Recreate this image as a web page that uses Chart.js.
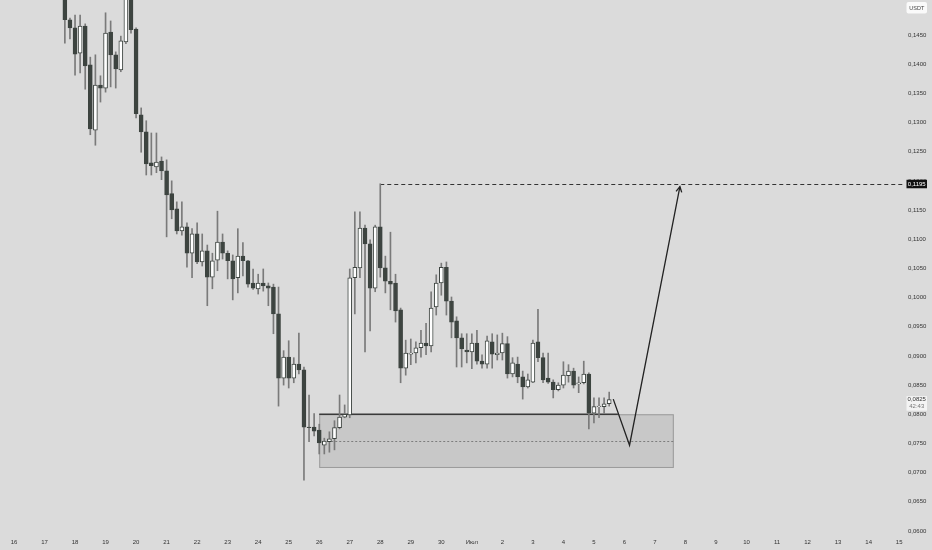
<!DOCTYPE html>
<html>
<head>
<meta charset="utf-8">
<script src="https://cdn.jsdelivr.net/npm/chart.js@4.4.1/dist/chart.umd.min.js"></script>
<style>
  html, body { margin: 0; padding: 0; background: #dbdbdb; }
  #wrap { position: relative; width: 932px; height: 550px; }
</style>
</head>
<body>
<div id="wrap"><canvas id="chart"></canvas></div>
<script>
// 4h candles, index 0 = 16 June 00:00 (6 candles per day)
const firstCandle = 10;

const opens = [
  0.1527, 0.1476, 0.1462, 0.1419, 0.1465, 0.1399, 0.1287, 0.1364, 0.1359, 0.1455,
  0.1416, 0.1390, 0.1438, 0.1524, 0.1460, 0.1313, 0.1284, 0.1231, 0.1224, 0.1234,
  0.1217, 0.1178, 0.1152, 0.1114, 0.1121, 0.1076, 0.1109, 0.1061, 0.1080, 0.1035,
  0.1064, 0.1095, 0.1076, 0.1063, 0.1034, 0.1071, 0.1063, 0.1025, 0.1015, 0.1025,
  0.1020, 0.1018, 0.0972, 0.0862, 0.0898, 0.0862, 0.0886, 0.0876, 0.0778, 0.0778,
  0.0773, 0.0747, 0.0753, 0.0758, 0.0777, 0.0795, 0.0799, 0.1034, 0.1051, 0.1119,
  0.1092, 0.1016, 0.1121, 0.1051, 0.1028, 0.1025, 0.0979, 0.0879, 0.0903, 0.0905,
  0.0914, 0.0922, 0.0917, 0.0984, 0.1025, 0.1052, 0.0994, 0.0960, 0.0931, 0.0910,
  0.0907, 0.0922, 0.0891, 0.0886, 0.0924, 0.0902, 0.0905, 0.0921, 0.0869, 0.0886,
  0.0864, 0.0847, 0.0855, 0.0924, 0.0897, 0.0862, 0.0855, 0.0842, 0.0850, 0.0866,
  0.0874, 0.0852, 0.0854, 0.0869, 0.0802, 0.0813, 0.0813, 0.0818
];
const highs = [
  0.1544, 0.1479, 0.1484, 0.1484, 0.1469, 0.1412, 0.1416, 0.1380, 0.1488, 0.1474,
  0.1421, 0.1448, 0.1531, 0.1536, 0.1462, 0.1325, 0.1303, 0.1282, 0.1282, 0.1241,
  0.1236, 0.1200, 0.1164, 0.1164, 0.1128, 0.1118, 0.1128, 0.1109, 0.1090, 0.1076,
  0.1148, 0.1109, 0.1080, 0.1073, 0.1118, 0.1094, 0.1064, 0.1049, 0.1040, 0.1049,
  0.1025, 0.1023, 0.1018, 0.0909, 0.0926, 0.0897, 0.0939, 0.0881, 0.0833, 0.0801,
  0.0783, 0.0759, 0.0770, 0.0789, 0.0833, 0.0816, 0.1049, 0.1147, 0.1147, 0.1124,
  0.1099, 0.1124, 0.1195, 0.1071, 0.1112, 0.1040, 0.0982, 0.0927, 0.0929, 0.0924,
  0.0944, 0.0956, 0.1010, 0.1039, 0.1059, 0.1061, 0.1001, 0.0967, 0.0938, 0.0938,
  0.0938, 0.0944, 0.0902, 0.0934, 0.0938, 0.0936, 0.0939, 0.0933, 0.0897, 0.0898,
  0.0874, 0.0869, 0.0927, 0.0980, 0.0905, 0.0905, 0.0859, 0.0854, 0.0890, 0.0885,
  0.0879, 0.0864, 0.0891, 0.0871, 0.0828, 0.0828, 0.0828, 0.0838
];
const lows = [
  0.1436, 0.1443, 0.1381, 0.1385, 0.1357, 0.1279, 0.1261, 0.1335, 0.1352, 0.1361,
  0.1359, 0.1387, 0.1435, 0.1453, 0.1308, 0.1249, 0.1210, 0.1210, 0.1214, 0.1202,
  0.1104, 0.1135, 0.1109, 0.1107, 0.1052, 0.1034, 0.1058, 0.1054, 0.0986, 0.1015,
  0.1046, 0.1066, 0.1032, 0.0996, 0.1008, 0.1037, 0.1018, 0.1014, 0.1006, 0.1011,
  0.0986, 0.0938, 0.0814, 0.0850, 0.0845, 0.0854, 0.0869, 0.0687, 0.0753, 0.0763,
  0.0732, 0.0732, 0.0735, 0.0739, 0.0775, 0.0794, 0.0794, 0.0972, 0.1034, 0.0907,
  0.0943, 0.1010, 0.1035, 0.1008, 0.0979, 0.0958, 0.0854, 0.0867, 0.0885, 0.0888,
  0.0898, 0.0902, 0.0907, 0.0970, 0.1004, 0.0970, 0.0931, 0.0881, 0.0881, 0.0888,
  0.0878, 0.0886, 0.0879, 0.0879, 0.0879, 0.0893, 0.0893, 0.0862, 0.0864, 0.0854,
  0.0826, 0.0845, 0.0854, 0.0890, 0.0854, 0.0853, 0.0828, 0.0840, 0.0845, 0.0855,
  0.0845, 0.0837, 0.0852, 0.0775, 0.0785, 0.0794, 0.0802, 0.0814
];
const closes = [
  0.1476, 0.1462, 0.1417, 0.1465, 0.1397, 0.1289, 0.1364, 0.1359, 0.1453, 0.1416,
  0.1392, 0.1440, 0.1519, 0.1459, 0.1315, 0.1284, 0.1229, 0.1226, 0.1232, 0.1217,
  0.1176, 0.1150, 0.1114, 0.1121, 0.1076, 0.1109, 0.1061, 0.1080, 0.1035, 0.1063,
  0.1095, 0.1076, 0.1063, 0.1032, 0.1071, 0.1063, 0.1023, 0.1016, 0.1025, 0.1020,
  0.1016, 0.0972, 0.0862, 0.0898, 0.0862, 0.0886, 0.0876, 0.0778, 0.0777, 0.0771,
  0.0751, 0.0754, 0.0758, 0.0777, 0.0795, 0.0800, 0.1034, 0.1052, 0.1119, 0.1092,
  0.1016, 0.1121, 0.1051, 0.1028, 0.1023, 0.0977, 0.0879, 0.0905, 0.0905, 0.0914,
  0.0922, 0.0917, 0.0982, 0.1025, 0.1052, 0.0994, 0.0958, 0.0931, 0.0912, 0.0907,
  0.0922, 0.0891, 0.0886, 0.0926, 0.0903, 0.0905, 0.0921, 0.0869, 0.0888, 0.0864,
  0.0847, 0.0859, 0.0922, 0.0897, 0.0859, 0.0855, 0.0842, 0.0850, 0.0867, 0.0874,
  0.0850, 0.0854, 0.0869, 0.0802, 0.0813, 0.0814, 0.0818, 0.0825
];

// axis ticks
const priceTicks = [0.060, 0.065, 0.070, 0.075, 0.080, 0.085, 0.090, 0.095, 0.100,
  0.105, 0.110, 0.115, 0.120, 0.125, 0.130, 0.135, 0.140, 0.145];
const dayLabels = ['16', '17', '18', '19', '20', '21', '22', '23', '24', '25', '26', '27',
  '28', '29', '30', 'Июл', '2', '3', '4', '5', '6', '7', '8', '9', '10', '11', '12', '13', '14', '15'];
const dayTicks = dayLabels.map((d, k) => k * 6);

// visible window
const viewStart = -2.75, viewEnd = 174.95;
const priceMin = 0.05914, priceMax = 0.15099;

// drawings (candle index / price)
const zoneStart = 60, zoneEnd = 129.7;
const zoneTop = 0.0800, zoneBottom = 0.0708, zoneMid = 0.0754;
const supportEnd = 118.7;
const targetStart = 72, targetPrice = 0.1195;
const projectionIdx = [117.8, 121.0, 130.9];
const projectionPrice = [0.0826, 0.0747, 0.1190];
const lastPrice = 0.0825, countdown = '42:43', currency = 'USDT';

const UP = '#ffffff', DOWN = '#3d4440', EDGE = '#3d4440', WICK = '#7a7a7a';
const FONT = { family: 'Liberation Sans, Arial, sans-serif', size: 6 };
const fmt = v => v.toFixed(4).replace('.', ',');

const bodies = opens.map((o, k) => ({ x: firstCandle + k, y: [o, closes[k]] }));
const wicks = lows.map((l, k) => ({ x: firstCandle + k, y: [l, highs[k]] }));
const bodyColors = opens.map((o, k) => closes[k] >= o ? UP : DOWN);

const drawings = {
  id: 'drawings',
  beforeDatasetsDraw(chart) {
    const { ctx, chartArea, scales: { x, y } } = chart;
    ctx.save();
    ctx.beginPath();
    ctx.rect(chartArea.left, chartArea.top, chartArea.right - chartArea.left, chartArea.bottom - chartArea.top);
    ctx.clip();

    // demand zone
    const x1 = x.getPixelForValue(zoneStart), x2 = x.getPixelForValue(zoneEnd);
    const y1 = y.getPixelForValue(zoneTop), y2 = y.getPixelForValue(zoneBottom);
    ctx.fillStyle = '#c8c8c8';
    ctx.fillRect(x1, y1, x2 - x1, y2 - y1);
    ctx.strokeStyle = '#9a9a9a';
    ctx.lineWidth = 1;
    ctx.strokeRect(x1 + 0.5, y1 + 0.5, x2 - x1 - 1, y2 - y1 - 1);

    ctx.setLineDash([2, 2]);
    ctx.strokeStyle = '#7d7d7d';
    const ym = Math.round(y.getPixelForValue(zoneMid)) + 0.5;
    ctx.beginPath();
    ctx.moveTo(x1, ym);
    ctx.lineTo(x2, ym);
    ctx.stroke();
    ctx.setLineDash([]);

    // support line
    ctx.strokeStyle = '#3a3a3a';
    ctx.lineWidth = 1.5;
    ctx.beginPath();
    ctx.moveTo(x1, y1);
    ctx.lineTo(x.getPixelForValue(supportEnd), y1);
    ctx.stroke();

    // target level
    const yt = Math.round(y.getPixelForValue(targetPrice)) + 0.5;
    ctx.strokeStyle = '#333';
    ctx.lineWidth = 1;
    ctx.setLineDash([4, 3]);
    ctx.beginPath();
    ctx.moveTo(x.getPixelForValue(targetStart), yt);
    ctx.lineTo(chartArea.right, yt);
    ctx.stroke();
    ctx.restore();
  },
  afterDatasetsDraw(chart) {
    const { ctx, scales: { x, y } } = chart;
    const pts = projectionIdx.map((v, k) => [x.getPixelForValue(v), y.getPixelForValue(projectionPrice[k])]);
    ctx.save();
    ctx.strokeStyle = '#222';
    ctx.lineWidth = 1.3;
    ctx.beginPath();
    pts.forEach((p, k) => k ? ctx.lineTo(p[0], p[1]) : ctx.moveTo(p[0], p[1]));
    ctx.stroke();
    // arrow head
    const [tx, ty] = pts[pts.length - 1], [px, py] = pts[pts.length - 2];
    const a = Math.atan2(ty - py, tx - px), len = 6;
    ctx.beginPath();
    ctx.moveTo(tx - len * Math.cos(a - 0.5), ty - len * Math.sin(a - 0.5));
    ctx.lineTo(tx, ty);
    ctx.lineTo(tx - len * Math.cos(a + 0.5), ty - len * Math.sin(a + 0.5));
    ctx.stroke();
    ctx.restore();
  },
  afterDraw(chart) {
    const { ctx, chartArea, scales: { y } } = chart;
    const bx = chartArea.right + 2.5, bw = 20.5;
    ctx.save();
    ctx.font = '6px ' + FONT.family;
    ctx.textAlign = 'center';
    ctx.textBaseline = 'middle';

    // target price tag
    const yt = y.getPixelForValue(targetPrice);
    ctx.fillStyle = '#111';
    ctx.fillRect(bx, yt - 4, bw, 8.5);
    ctx.fillStyle = '#fff';
    ctx.fillText(fmt(targetPrice), bx + bw / 2, yt + 0.3);

    // last price tag with countdown
    const yl = y.getPixelForValue(lastPrice);
    ctx.fillStyle = '#f4f4f4';
    ctx.fillRect(bx, yl - 3.5, bw, 14.5);
    ctx.fillStyle = '#333';
    ctx.fillText(fmt(lastPrice), bx + bw / 2, yl);
    ctx.fillStyle = '#777';
    ctx.fillText(countdown, bx + bw / 2, yl + 6.5);

    // currency badge
    ctx.fillStyle = '#fafafa';
    ctx.beginPath();
    ctx.roundRect(bx, 2, bw, 11.5, 2);
    ctx.fill();
    ctx.fillStyle = '#444';
    ctx.font = '5.5px ' + FONT.family;
    ctx.fillText(currency, bx + bw / 2, 8);
    ctx.restore();
  }
};

// drop the half-label padding Chart.js reserves at the axis ends
const noEndPadding = s => {
  s.paddingTop = 0; s.paddingBottom = 0; s.paddingLeft = 0; s.paddingRight = 0;
};

new Chart(document.getElementById('chart'), {
  type: 'bar',
  data: {
    datasets: [
      {
        data: bodies,
        backgroundColor: bodyColors,
        borderColor: EDGE,
        borderWidth: 1,
        borderSkipped: false,
        barThickness: 4,
        grouped: false,
        order: 1
      },
      {
        data: wicks,
        backgroundColor: WICK,
        borderWidth: 0,
        barThickness: 1,
        grouped: false,
        order: 2
      }
    ]
  },
  options: {
    responsive: true,
    maintainAspectRatio: false,
    animation: false,
    events: [],
    layout: { padding: 0 },
    plugins: { legend: { display: false }, tooltip: { enabled: false } },
    scales: {
      x: {
        type: 'linear',
        min: viewStart,
        max: viewEnd,
        offset: false,
        grid: { display: false, drawTicks: false },
        border: { display: false },
        afterBuildTicks: s => { s.ticks = dayTicks.map(v => ({ value: v })); },
        afterFit: s => { s.height = 14; noEndPadding(s); },
        ticks: {
          autoSkip: false,
          maxRotation: 0,
          padding: 3,
          color: '#333',
          font: FONT,
          callback: v => dayLabels[dayTicks.indexOf(v)]
        }
      },
      y: {
        type: 'linear',
        position: 'right',
        min: priceMin,
        max: priceMax,
        grid: { display: false, drawTicks: false },
        border: { display: false },
        afterBuildTicks: s => { s.ticks = priceTicks.map(v => ({ value: v })); },
        afterFit: s => { s.width = 28; noEndPadding(s); },
        ticks: {
          padding: 4,
          color: '#333',
          font: FONT,
          callback: v => fmt(v)
        }
      }
    }
  },
  plugins: [drawings]
});
</script>
</body>
</html>
